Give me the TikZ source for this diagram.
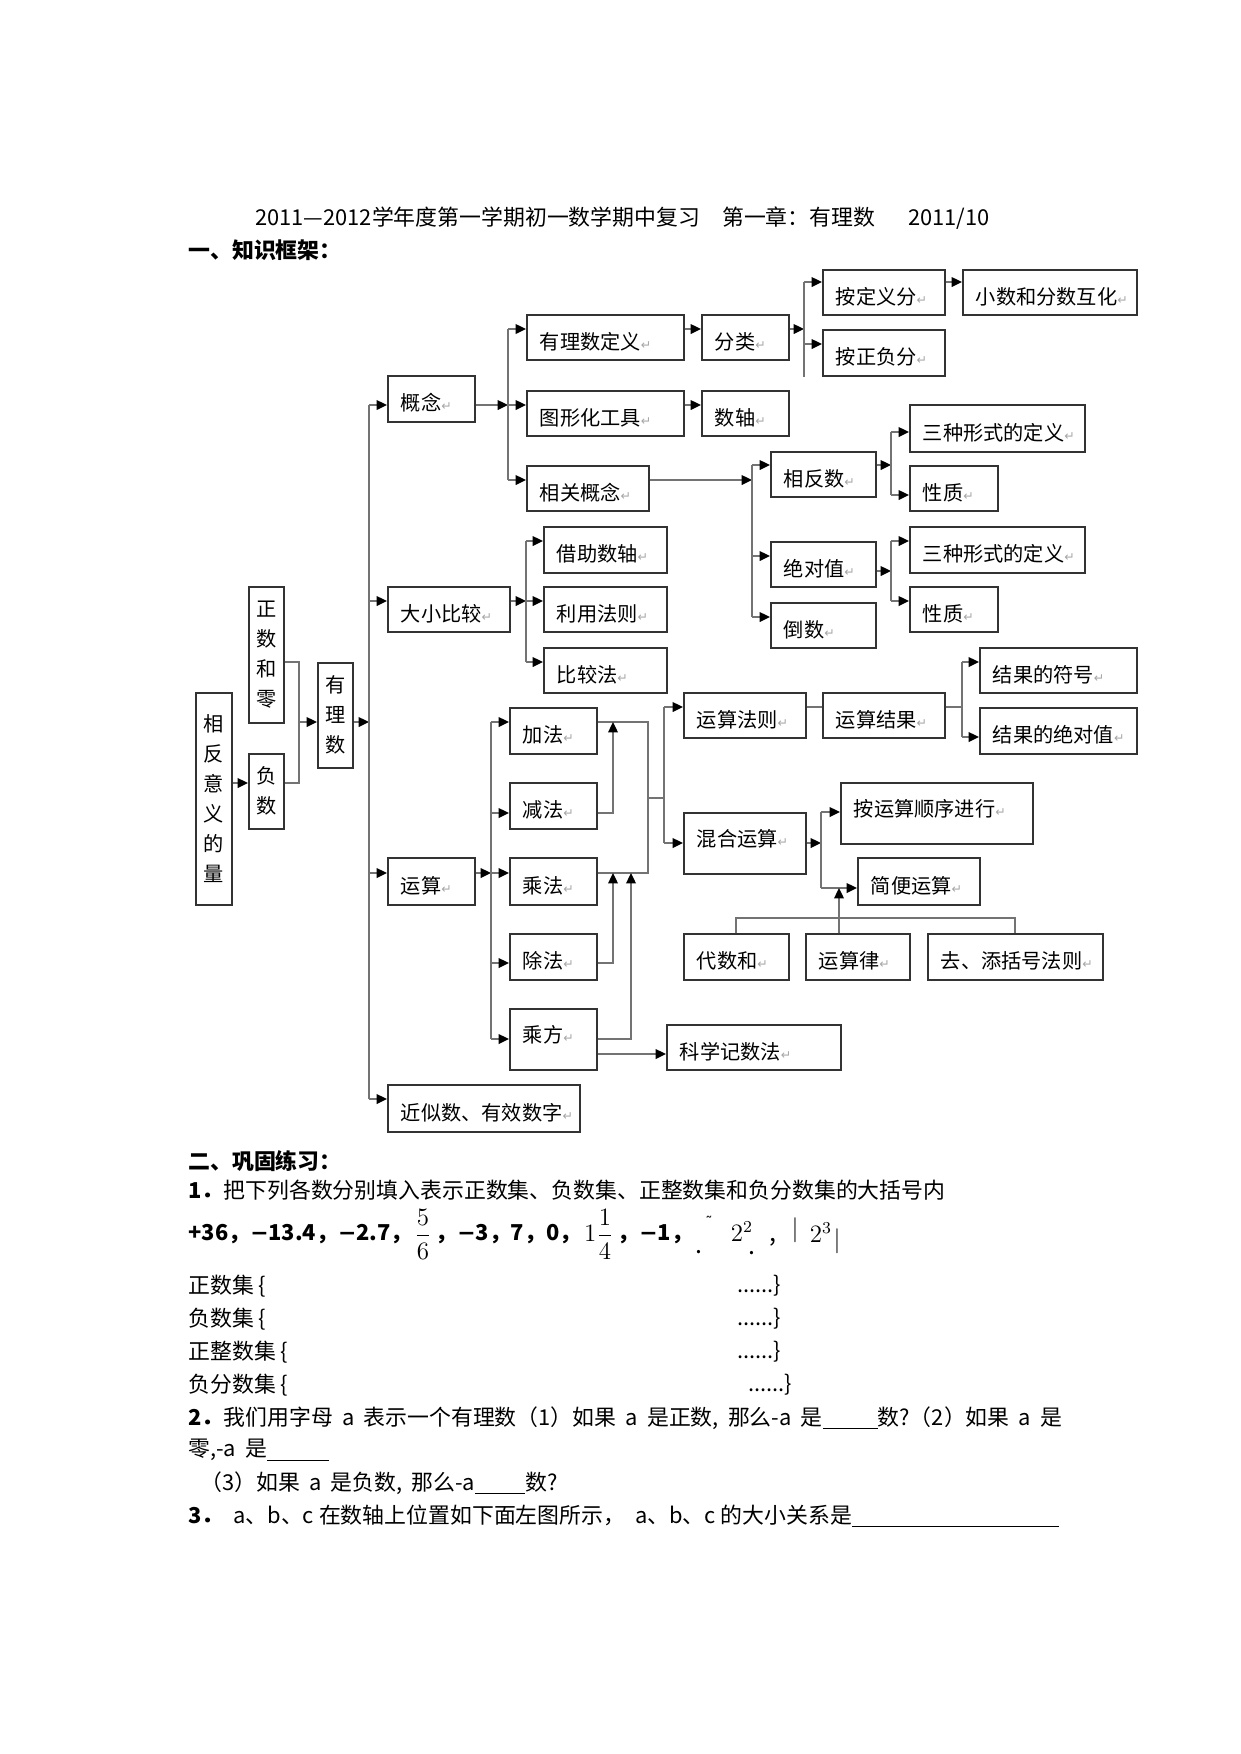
\documentclass[tikz,border=0pt]{standalone}
\usepackage{amsmath}
\usepackage{fontspec}
\usetikzlibrary{arrows.meta}
\setmainfont{Noto Sans CJK SC}
\newfontfamily\symf{DejaVu Sans}
\newdimen\px
\px=0.48pt
\newcommand{\rt}{{\symf\fontsize{6pt}{6pt}\selectfont\color{black!35}↵}}
\newcommand{\mn}{{\symf −}}
\newcommand{\boxfont}{\fontsize{9.7pt}{14.4pt}\selectfont}
\newcommand{\bodyfont}{\fontsize{10.5pt}{13pt}\selectfont}
\newcommand{\widefont}{\bodyfont\spaceskip=0.42em plus 0.1em}
\newcommand{\blank}[1]{\rule[-2pt]{#1\px}{0.6pt}}

\tikzset{
  box/.style={draw=black!80, line width=0.8pt, anchor=north west,
    inner xsep=13*\px, inner ysep=0pt, minimum height=45*\px,
    text height=12pt, text depth=0.7pt,
    /utils/exec={\pgfmathsetlengthmacro\bw{(#1-26)*0.48}},
    text width=\bw, align=left, font=\boxfont},
  vbox/.style={draw=black!80, line width=0.8pt, anchor=north west,
    inner sep=0pt, minimum width=35*\px, align=center, font=\boxfont},
  tall/.style={minimum height=#1*\px, text height=8.5pt, text depth=5.4pt},
  line/.style={draw=black!55, line width=0.9pt},
  arr/.style={line, -{Triangle[length=5pt, width=4.6pt, color=black]}},
  txt/.style={anchor=west, inner sep=0pt, font=\bodyfont},
  mth/.style={inner sep=0pt, font=\fontsize{12pt}{14pt}\selectfont},
}

\begin{document}
\begin{tikzpicture}[x=0.48pt, y=-0.48pt]
\useasboundingbox (0,0) rectangle (1241,1754);

\node[txt] (title) at (255,218) {2011—2012学年度第一学期初一数学期中复习\hspace{22\px}第一章：有理数\hspace{33\px}2011/10};
\node[txt, font=\bodyfont\bfseries] (sec1) at (188,250) {一、知识框架：};

\node[vbox, minimum width=36*\px, minimum height=212*\px] (xfyy) at (195,692) {相\\反\\意\\义\\的\\量};
\node[vbox, minimum height=136*\px] (zshl) at (248,586) {正\\数\\和\\零};
\node[vbox, minimum height=75*\px] (fs) at (248,753) {负\\数};
\node[vbox, minimum height=105*\px] (yls) at (317,662) {有\\理\\数};

\node[box=87, minimum height=46*\px] (gn) at (387,375) {概念\rt};
\node[box=122] (dxbj) at (387,586) {大小比较\rt};
\node[box=87, minimum height=47*\px] (ys) at (387,857) {运算\rt};
\node[box=192, minimum height=47*\px] (jss) at (387,1084) {近似数、有效数字\rt};

\node[box=157] (yldy) at (526,314) {有理数定义\rt};
\node[box=157] (txh) at (526,390) {图形化工具\rt};
\node[box=122] (xggn) at (526,465) {相关概念\rt};
\node[box=87] (fl) at (701,314) {分类\rt};
\node[box=87] (sz) at (701,390) {数轴\rt};
\node[box=122] (adyf) at (822,269) {按定义分\rt};
\node[box=122, minimum height=46*\px] (azff) at (822,329) {按正负分\rt};
\node[box=174] (xsfs) at (962,269) {小数和分数互化\rt};
\node[box=105] (xfs) at (770,451) {相反数\rt};
\node[box=105] (jdz) at (770,541) {绝对值\rt};
\node[box=105] (ds) at (770,602) {倒数\rt};
\node[box=175, minimum height=47*\px] (sxdy1) at (909,404) {三种形式的定义\rt};
\node[box=88] (xz1) at (909,465) {性质\rt};
\node[box=175, minimum height=46*\px] (sxdy2) at (909,526) {三种形式的定义\rt};
\node[box=88] (xz2) at (909,586) {性质\rt};

\node[box=123, minimum height=46*\px] (jzsz) at (543,526) {借助数轴\rt};
\node[box=123] (lyfz) at (543,586) {利用法则\rt};
\node[box=123] (bjf) at (543,647) {比较法\rt};

\node[box=87, minimum height=46*\px] (jiaf) at (509,707) {加法\rt};
\node[box=87, minimum height=46*\px] (jianf) at (509,782) {减法\rt};
\node[box=87, minimum height=47*\px] (chengf) at (509,857) {乘法\rt};
\node[box=87, minimum height=46*\px] (chuf) at (509,933) {除法\rt};
\node[box=87, tall=61] (cfang) at (509,1008) {乘方\rt};
\node[box=122] (ysfz) at (683,692) {运算法则\rt};
\node[box=122] (ysjg) at (822,692) {运算结果\rt};
\node[box=157] (jgfh) at (979,647) {结果的符号\rt};
\node[box=157, minimum height=46*\px] (jgjdz) at (979,707) {结果的绝对值\rt};
\node[box=122, tall=61] (hhys) at (683,812) {混合运算\rt};
\node[box=192, tall=61] (aysx) at (840,782) {按运算顺序进行\rt};
\node[box=122, minimum height=47*\px] (jbys) at (857,857) {简便运算\rt};
\node[box=105, minimum height=46*\px] (dsh) at (683,933) {代数和\rt};
\node[box=104, minimum height=46*\px] (ysl) at (805,933) {运算律\rt};
\node[box=175, minimum height=46*\px] (qtkh) at (927,933) {去、添括号法则\rt};
\node[box=174] (kxjs) at (666,1024) {科学记数法\rt};

\coordinate (a1) at (299,722);
\coordinate (t1) at (369,405);
\coordinate (t2) at (369,601);
\coordinate (t3) at (369,873);
\coordinate (t4) at (369,1099);
\draw[arr] (xfyy.east |- 0,783) -- (fs.west |- 0,783);
\draw[line] (zshl.east |- 0,662) -| (a1) |- (fs.east |- 0,783);
\draw[arr] (a1) -- (a1 -| yls.west);
\draw[arr] (yls.east |- a1) -- (a1 -| t1);
\draw[line] (t1) -- (t4);
\draw[arr] (t1) -- (t1 -| gn.west);
\draw[arr] (t2) -- (t2 -| dxbj.west);
\draw[arr] (t3) -- (t3 -| ys.west);
\draw[arr] (t4) -- (t4 -| jss.west);

\coordinate (g1) at (508,329);
\coordinate (g2) at (508,405);
\coordinate (g3) at (508,480);
\draw[arr] (gn.east |- g2) -- (g2);
\draw[line] (g1) -- (g3);
\draw[arr] (g1) -- (g1 -| yldy.west);
\draw[arr] (g2) -- (g2 -| txh.west);
\draw[arr] (g3) -- (g3 -| xggn.west);
\draw[arr] (yldy.east |- g1) -- (g1 -| fl.west);
\draw[arr] (txh.east |- g2) -- (g2 -| sz.west);

\coordinate (f1) at (804,282);
\coordinate (f2) at (804,344);
\draw[arr] (fl.east |- g1) -- (g1 -| f1);
\draw[line] (f1) -- (f1 |- azff.south);
\draw[arr] (f1) -- (f1 -| adyf.west);
\draw[arr] (f2) -- (f2 -| azff.west);
\draw[arr] (adyf.east |- f1) -- (f1 -| xsfs.west);

\coordinate (r1) at (752,465);
\coordinate (r2) at (752,556);
\coordinate (r3) at (752,617);
\draw[arr] (xggn.east |- g3) -- (g3 -| r1);
\draw[line] (r1) -- (r3);
\draw[arr] (r1) -- (r1 -| xfs.west);
\draw[arr] (r2) -- (r2 -| jdz.west);
\draw[arr] (r3) -- (r3 -| ds.west);

\coordinate (p1) at (891,432);
\coordinate (p2) at (891,495);
\coordinate (q1) at (891,541);
\coordinate (q2) at (891,601);
\draw[arr] (xfs.east |- r1) -- (r1 -| p1);
\draw[line] (p1) -- (p2);
\draw[arr] (p1) -- (p1 -| sxdy1.west);
\draw[arr] (p2) -- (p2 -| xz1.west);
\draw[arr] (jdz.east |- 0,571) -- (q1 |- 0,571);
\draw[line] (q1) -- (q2);
\draw[arr] (q1) -- (q1 -| sxdy2.west);
\draw[arr] (q2) -- (q2 -| xz2.west);

\coordinate (b1) at (526,541);
\coordinate (b2) at (526,601);
\coordinate (b3) at (526,662);
\draw[arr] (dxbj.east |- b2) -- (b2);
\draw[line] (b1) -- (b3);
\draw[arr] (b1) -- (b1 -| jzsz.west);
\draw[arr] (b2) -- (b2 -| lyfz.west);
\draw[arr] (b3) -- (b3 -| bjf.west);

\coordinate (o1) at (491,722);
\coordinate (o2) at (491,813);
\coordinate (o3) at (491,873);
\coordinate (o4) at (491,963);
\coordinate (o5) at (491,1039);
\draw[arr] (ys.east |- o3) -- (o3);
\draw[line] (o1) -- (o5);
\draw[arr] (o1) -- (o1 -| jiaf.west);
\draw[arr] (o2) -- (o2 -| jianf.west);
\draw[arr] (o3) -- (o3 -| chengf.west);
\draw[arr] (o4) -- (o4 -| chuf.west);
\draw[arr] (o5) -- (o5 -| cfang.west);

\coordinate (m1) at (648,722);
\coordinate (m2) at (648,873);
\coordinate (m3) at (648,798);
\coordinate (n1) at (664,707);
\coordinate (n2) at (664,843);
\coordinate (u1) at (613,722);
\coordinate (u2) at (613,873);
\coordinate (u3) at (631,873);
\draw[line] (jiaf.east |- m1) -- (m1) -- (m2) -- (chengf.east |- m2);
\draw[arr] (jianf.east |- o2) -| (u1);
\draw[arr] (chuf.east |- o4) -| (u2);
\draw[arr] (cfang.east |- o5) -| (u3);
\draw[arr] (cfang.east |- 0,1054) -- (kxjs.west |- 0,1054);
\draw[line] (m3) -- (m3 -| n1);
\draw[line] (n1) -- (n2);
\draw[arr] (n1) -- (n1 -| ysfz.west);
\draw[arr] (n2) -- (n2 -| hhys.west);

\coordinate (k1) at (962,662);
\coordinate (k2) at (962,737);
\draw[line] (ysfz.east |- n1) -- (n1 -| ysjg.west);
\draw[line] (ysjg.east |- n1) -- (n1 -| k1);
\draw[line] (k1) -- (k2);
\draw[arr] (k1) -- (k1 -| jgfh.west);
\draw[arr] (k2) -- (k2 -| jgjdz.west);

\coordinate (h1) at (821,812);
\coordinate (h2) at (821,888);
\coordinate (w1) at (839,918);
\draw[arr] (hhys.east |- n2) -- (n2 -| h1);
\draw[line] (h1) -- (h2);
\draw[arr] (h1) -- (h1 -| aysx.west);
\draw[arr] (h2) -- (h2 -| jbys.west);
\draw[line] (dsh.north) |- (w1) -| (qtkh.north);
\draw[arr] (ysl.north -| w1) -- (h2 -| w1);

\node[txt, font=\bodyfont\bfseries] (sec2) at (188,1161) {二、巩固练习：};
\node[txt] (q1) at (188,1190) {\textbf{1．}把下列各数分别填入表示正数集、负数集、正整数集和负分数集的大括号内};
\node[txt, font=\bodyfont\bfseries] (nl1) at (188,1234) {+36，\mn13.4，\mn2.7，};
\node[mth, anchor=west] (fr1) at ([xshift=1*\px]nl1.east) {$\dfrac{5}{6}$};
\node[txt, font=\bodyfont\bfseries] (nl2) at ([xshift=3*\px]fr1.east) {，\mn3，7，0，};
\node[mth, anchor=west] (fr2) at ([xshift=2*\px]nl2.east) {$1\dfrac{1}{4}$};
\node[txt, font=\bodyfont\bfseries] (nl3) at ([xshift=3*\px]fr2.east) {，\mn1，};
\node[mth] (gb1) at (699,1252) {.};
\node[mth, font=\symf\fontsize{7pt}{7pt}\selectfont] (gb2) at (709,1222) {˜};
\node[mth] (gb3) at (742,1232) {$2^{2}$};
\node[mth] (gb4) at (752,1253) {.};
\node[mth] (gb5) at (773,1242) {,};
\node[mth] (gb6) at (795,1230) {$|$};
\node[mth] (gb7) at (821,1233) {$2^{3}$};
\node[mth] (gb8) at (837,1241) {$|$};

\node[txt] (zsj) at (188,1286) {正数集 \{};
\node[txt] (zsjr) at (737,1286) {......\}};
\node[txt] (fsj) at (188,1319) {负数集 \{};
\node[txt] (fsjr) at (737,1319) {......\}};
\node[txt] (zzsj) at (188,1352) {正整数集 \{};
\node[txt] (zzsjr) at (737,1352) {......\}};
\node[txt] (ffsj) at (188,1385) {负分数集 \{};
\node[txt] (ffsjr) at (748,1385) {......\}};

\node[txt, font=\widefont] (q2a) at (188,1418) {\textbf{2．}我们用字母 a 表示一个有理数（1）如果 a 是正数, 那么-a 是\blank{55}数?（2）如果 a 是};
\node[txt, font=\widefont] (q2b) at (188,1450) {零,-a 是\blank{62}};
\node[txt, font=\widefont] (q2c) at (200,1483) {（3）如果 a 是负数, 那么-a\blank{50}数?};
\node[txt] (q3) at (188,1516) {\textbf{3．}~~a、b、c 在数轴上位置如下面左图所示，~~a、b、c 的大小关系是\blank{207}};
\end{tikzpicture}
\end{document}
